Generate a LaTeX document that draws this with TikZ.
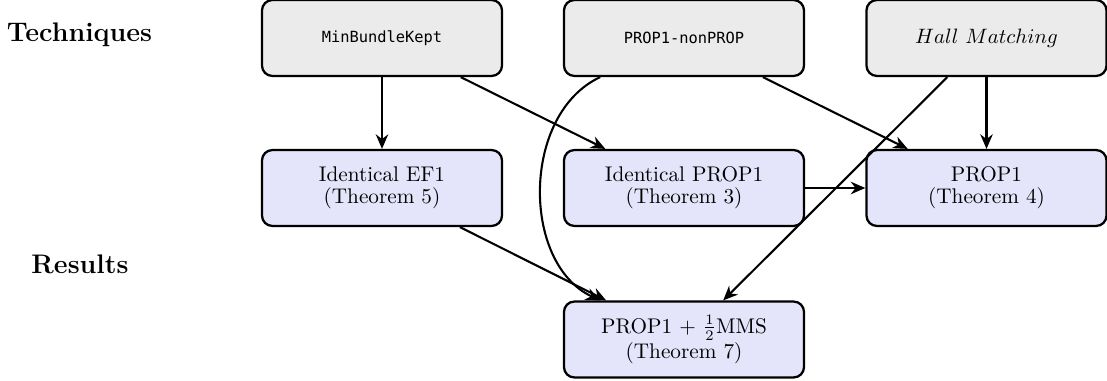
\documentclass[tikz,border=0pt]{standalone}
\usepackage{fontspec}
\newfontfamily\techmono{DejaVu Sans Mono}
\usetikzlibrary{arrows.meta}
\definecolor{techfill}{RGB}{235,235,235}
\definecolor{resfill}{RGB}{228,228,250}
\begin{document}
\begin{tikzpicture}[x=0.48077pt, y=-0.48077pt,
  box/.style={draw=black, line width=1.1pt, rounded corners=5pt,
    minimum width=115.4pt, minimum height=36.5pt, inner sep=0pt,
    align=center, font=\fontsize{10.2pt}{10.6pt}\selectfont},
  tech/.style={box, fill=techfill},
  res/.style={box, fill=resfill},
  lbl/.style={font=\fontsize{12.9pt}{15pt}\selectfont\bfseries, anchor=base},
  mono/.style={font=\techmono\fontsize{7.4pt}{9pt}\selectfont},
  arr/.style={-{Stealth[length=7pt,width=6pt]}, line width=1pt}]
\useasboundingbox (0,0) rectangle (1107,381);
\node[lbl] (tq) at (79.5,42) {Techniques};
\node[lbl] (rs) at (80,273) {Results};
\node[tech, mono] (A) at (382,38) {MinBundleKept};
\node[tech, mono] (B) at (684,38) {PROP1-nonPROP};
\node[tech] (C) at (986.5,38) {$Hall\ Matching$};
\node[res] (D) at (382,188) {Identical EF1\\(Theorem 5)};
\node[res] (E) at (684,188) {Identical PROP1\\(Theorem 3)};
\node[res] (F) at (986.5,188) {PROP1\\(Theorem 4)};
\node[res] (G) at (684,339.5) {PROP1 + $\frac{1}{2}$MMS\\(Theorem 7)};
\draw[arr] (A) -- (D);
\draw[arr] (A) -- (E);
\draw[arr] (B) -- (F);
\draw[arr] (B) to[out=205,in=155] (G);
\draw[arr] (C) -- (F);
\draw[arr] (C) -- (G);
\draw[arr] (E) -- (F);
\draw[arr] (D) -- (G);
\end{tikzpicture}
\end{document}
